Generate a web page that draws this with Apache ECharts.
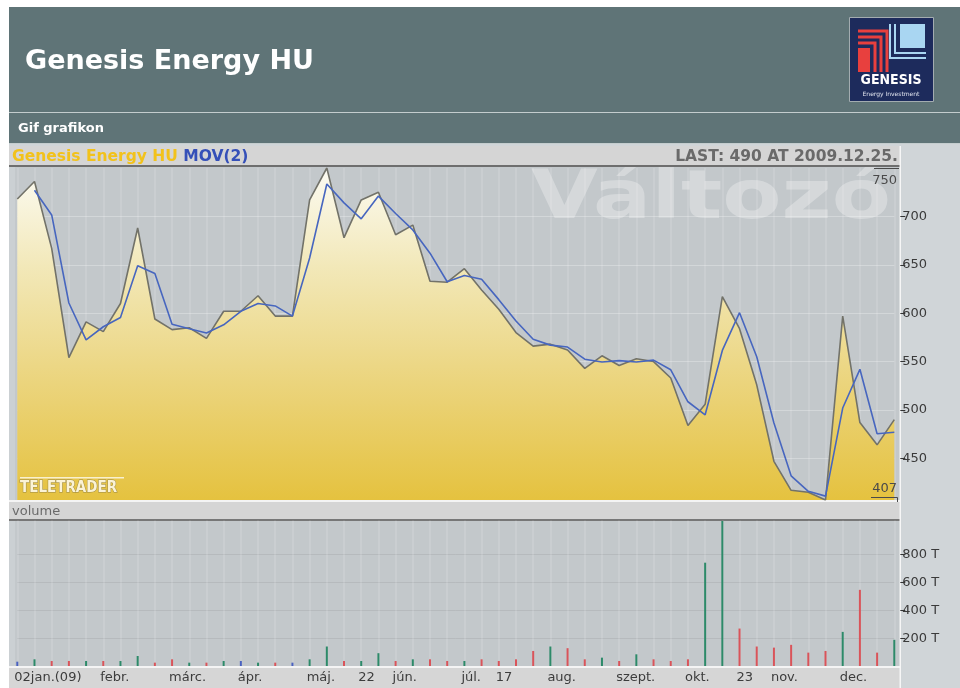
<!DOCTYPE html>
<html>
<head>
<meta charset="utf-8">
<script src="https://cdn.jsdelivr.net/npm/echarts@6/dist/echarts.min.js"></script>
<style>
html,body{margin:0;padding:0;background:#ffffff;}
#chart{width:960px;height:688px;}
</style>
</head>
<body>
<div id="chart"></div>
<script>
// ---- data (weekly, 2009) ----
const dates = [
 '2009.01.02','2009.01.09','2009.01.16','2009.01.23','2009.01.30',
 '2009.02.06','2009.02.13','2009.02.20','2009.02.27',
 '2009.03.06','2009.03.13','2009.03.20','2009.03.27',
 '2009.04.03','2009.04.10','2009.04.17','2009.04.24',
 '2009.05.01','2009.05.08','2009.05.15','2009.05.22','2009.05.29',
 '2009.06.05','2009.06.12','2009.06.19','2009.06.26',
 '2009.07.03','2009.07.10','2009.07.17','2009.07.24','2009.07.31',
 '2009.08.07','2009.08.14','2009.08.21','2009.08.28',
 '2009.09.04','2009.09.11','2009.09.18','2009.09.25',
 '2009.10.02','2009.10.09','2009.10.16','2009.10.23','2009.10.30',
 '2009.11.06','2009.11.13','2009.11.20','2009.11.27',
 '2009.12.04','2009.12.11','2009.12.18','2009.12.25'
];
const price = [718,736,667,554,591,581,610,688,594,583,
               585,574,602,602,618,597,597,717,750,678,
               717,725,681,691,633,632,646,624,604,580,
               566,568,562,543,556,546,553,550,533,484,
               506,617,584,526,447,417,415,407,597,487,
               464,490];
const mov2 = [null,727,701.5,610.5,572.5,586,595.5,649,641,588.5,
              584,579.5,588,602,610,607.5,597,657,733.5,714,
              697.5,721,703,686,662,632.5,639,635,614,592,
              573,567,565,552.5,549.5,551,549.5,551.5,541.5,508.5,
              495,561.5,600.5,555,486.5,432,416,411,502,542,
              475.5,477];
const volume = [31,48,36,36,36,36,36,72,24,48,
                24,24,36,36,24,24,24,48,140,36,
                36,92,36,48,48,36,36,48,36,48,
                108,140,128,48,60,36,84,48,36,48,
                742,1042,269,140,132,152,96,108,245,547,
                96,188];
const direction = ['flat','up','down','down','up','down','up','up','down','down',
                   'up','down','up','flat','up','down','flat','up','up','down',
                   'up','up','down','up','down','down','up','down','down','down',
                   'down','up','down','down','up','down','up','down','down','down',
                   'up','up','down','down','down','down','down','down','up','down',
                   'down','up'];
const tickIndex = [0,5,9,13,17,20,22,26,28,31,35,39,42,44,48];
const tickText = ['02jan.(09)','febr.','márc.','ápr.','máj.','22','jún.','júl.','17','aug.','szept.','okt.','23','nov.','dec.'];
const priceTicks = [450,500,550,600,650,700];
const volumeTicks = [200,400,600,800];

const dirColor = {up:'#2d8a69', down:'#d9545a', flat:'#4a62c0'};
const FONT = '"DejaVu Sans", Verdana, sans-serif';
const NARROW = '"DejaVu Sans Condensed", "Liberation Sans Narrow", "DejaVu Sans", sans-serif';

const volData = volume.map((v, i) => ({value: v, itemStyle: {color: dirColor[direction[i]]}}));
const lastText = 'LAST: ' + price[price.length - 1] + ' AT ' + dates[dates.length - 1] + '.';

const chart = echarts.init(document.getElementById('chart'), null, {renderer: 'canvas'});

const HEAD = '#5f7477';
const PLOTBG = '#c3c8cb';
const BARBG = '#d5d5d5';
const SIDE = '#d0d5d8';

const graphics = [
  // header
  {type:'rect', z:-5, shape:{x:9, y:7, width:951, height:105}, style:{fill:HEAD}},
  {type:'rect', z:-5, shape:{x:9, y:112, width:951, height:1}, style:{fill:'#c4cdce'}},
  {type:'rect', z:-5, shape:{x:9, y:113, width:951, height:31}, style:{fill:HEAD}},
  {type:'rect', z:-5, shape:{x:9, y:143, width:951, height:1}, style:{fill:'#c4cdce'}},
  {type:'text', z:5, x:25, y:62, style:{text:'Genesis Energy HU', fill:'#ffffff', font:'bold 27px ' + FONT, verticalAlign:'middle'}},
  {type:'text', z:5, x:18, y:129, style:{text:'Gif grafikon', fill:'#ffffff', font:'bold 13px ' + FONT, verticalAlign:'middle'}},
  // logo
  {type:'rect', z:5, shape:{x:849.5, y:17.5, width:84, height:84}, style:{fill:'#1d2b5c', stroke:'#a3acb0', lineWidth:1}},
  {type:'polyline', z:6, shape:{points:[[858,31],[887,31],[887,72]]}, style:{stroke:'#e8403e', lineWidth:3, fill:null}},
  {type:'polyline', z:6, shape:{points:[[858,37],[881,37],[881,72]]}, style:{stroke:'#e8403e', lineWidth:3, fill:null}},
  {type:'polyline', z:6, shape:{points:[[858,43],[875,43],[875,72]]}, style:{stroke:'#e8403e', lineWidth:3, fill:null}},
  {type:'rect', z:6, shape:{x:858, y:48, width:12, height:24}, style:{fill:'#e8403e'}},
  {type:'rect', z:6, shape:{x:900, y:24, width:25, height:24}, style:{fill:'#a9d6f2'}},
  {type:'polyline', z:6, shape:{points:[[895,24],[895,53],[926,53]]}, style:{stroke:'#a9d6f2', lineWidth:2, fill:null}},
  {type:'polyline', z:6, shape:{points:[[890,24],[890,58],[926,58]]}, style:{stroke:'#a9d6f2', lineWidth:2, fill:null}},
  {type:'text', z:6, x:891, y:80, style:{text:'GENESIS', fill:'#ffffff', font:'bold 14px ' + NARROW, align:'center', verticalAlign:'middle'}},
  {type:'text', z:6, x:891, y:94, style:{text:'Energy Investment', fill:'#e0e4ee', font:'6px ' + FONT, align:'center', verticalAlign:'middle'}},
  // chart panel
  {type:'rect', z:-5, shape:{x:9, y:144, width:951, height:544}, style:{fill:SIDE}},
  {type:'rect', z:-4, shape:{x:9, y:167, width:891, height:334}, style:{fill:PLOTBG}},
  {type:'rect', z:-4, shape:{x:9, y:167, width:6, height:334}, style:{fill:'#cbd0d3'}},
  // watermark (below the legend bar)
  {type:'text', z:-3, x:531, y:200, scaleX:1.27, style:{text:'Változó', fill:'rgba(255,255,255,0.30)', font:'bold 68px ' + FONT, verticalAlign:'middle'}},
  {type:'rect', z:-2, shape:{x:9, y:146, width:891, height:20}, style:{fill:BARBG}},
  {type:'rect', z:-2, shape:{x:9, y:165, width:891, height:2}, style:{fill:'#6e6e6e'}},
  {type:'rect', z:-4, shape:{x:9, y:500, width:891, height:2}, style:{fill:'#f4f4f4'}},
  {type:'rect', z:-4, shape:{x:9, y:502, width:891, height:18}, style:{fill:BARBG}},
  {type:'rect', z:-4, shape:{x:9, y:519, width:891, height:2}, style:{fill:'#777777'}},
  {type:'rect', z:-4, shape:{x:9, y:521, width:891, height:145}, style:{fill:PLOTBG}},
  {type:'rect', z:-4, shape:{x:9, y:521, width:6, height:145}, style:{fill:'#cbd0d3'}},
  {type:'rect', z:-4, shape:{x:9, y:666, width:891, height:2}, style:{fill:'#f4f4f4'}},
  {type:'rect', z:-4, shape:{x:9, y:668, width:891, height:20}, style:{fill:'#d6d6d6'}},
  {type:'rect', z:-2, shape:{x:899.5, y:146, width:1.5, height:542}, style:{fill:'#f6f6f6'}},
  // legend texts
  {type:'text', z:5, x:12, y:157, style:{
    text:'{a|Genesis Energy HU} {b|MOV(2)}', verticalAlign:'middle', font:'bold 15.5px ' + FONT,
    rich:{a:{fill:'#f2c21b', font:'bold 15.5px ' + FONT}, b:{fill:'#3550b8', font:'bold 15.5px ' + FONT}}}},
  {type:'text', z:5, x:898, y:157, style:{text:lastText, fill:'#6a6a6a', font:'bold 15.5px ' + FONT, align:'right', verticalAlign:'middle'}},
  {type:'text', z:5, x:12, y:512, style:{text:'volume', fill:'#6a6a6a', font:'13px ' + FONT, verticalAlign:'middle'}},
  // teletrader
  {type:'rect', z:10, shape:{x:20, y:477, width:104, height:1.5}, style:{fill:'#f8f0d0'}},
  {type:'text', z:10, x:20, y:488, style:{text:'TELETRADER', fill:'#fbf3d6', stroke:'#9c8a46', lineWidth:1, font:'bold 15px ' + NARROW, verticalAlign:'middle'}},
  // max/min labels
  {type:'polyline', z:10, shape:{points:[[874,168.5],[899,168.5]]}, style:{stroke:'#4a4a4a', lineWidth:1, fill:null}},
  {type:'text', z:10, x:897, y:181, style:{text:'750', fill:'#4a4a4a', font:'13px ' + FONT, align:'right', verticalAlign:'middle'}},
  {type:'text', z:10, x:897, y:489, style:{text:'407', fill:'#4a4a4a', font:'13px ' + FONT, align:'right', verticalAlign:'middle'}},
  {type:'polyline', z:10, shape:{points:[[871,497.5],[897.5,497.5],[897.5,502]]}, style:{stroke:'#4a4a4a', lineWidth:1, fill:null}}
];

const option = {
  animation: false,
  backgroundColor: '#ffffff',
  textStyle: {fontFamily: FONT},
  graphic: graphics,
  grid: [
    {left: 17.3, top: 168, width: 877, height: 332},
    {left: 17.3, top: 520.5, width: 877, height: 145.5}
  ],
  xAxis: [
    {gridIndex:0, type:'category', data:dates, boundaryGap:false,
     axisLine:{show:false}, axisTick:{show:false}, axisLabel:{show:false},
     splitLine:{show:true, interval:0, lineStyle:{color:'rgba(255,255,255,0.12)', width:2}}},
    {gridIndex:1, type:'category', data:dates, boundaryGap:false,
     axisLine:{show:false}, axisTick:{show:false},
     axisLabel:{show:true, interval:(i) => tickIndex.indexOf(i) >= 0,
                formatter:(v, i) => { const k = tickIndex.indexOf(i); return k >= 0 ? tickText[k] : ''; },
                align:'left', margin:5, padding:[0,0,0,-3], color:'#3c3c3c', fontSize:13, fontFamily:FONT, hideOverlap:false},
     splitLine:{show:true, interval:0, lineStyle:{color:'rgba(255,255,255,0.12)', width:2}}}
  ],
  yAxis: [
    {gridIndex:0, type:'value', position:'right', min:407, max:750, splitNumber:7, offset:6, scale:true,
     axisLine:{show:false},
     axisTick:{show:true, length:5, customValues:priceTicks, lineStyle:{color:'#333'}},
     axisLabel:{customValues:priceTicks, margin:2, color:'#3a3a3a', fontSize:13, fontFamily:FONT},
     splitLine:{show:true, lineStyle:{color:'rgba(255,255,255,0.28)', width:1}}},
    {gridIndex:1, type:'value', position:'right', min:0, max:1045, interval:200, offset:6,
     axisLine:{show:false},
     axisTick:{show:true, length:5, customValues:volumeTicks, lineStyle:{color:'#333'}},
     axisLabel:{customValues:volumeTicks, formatter:(v) => v + ' T', margin:2, color:'#3a3a3a', fontSize:13, fontFamily:FONT},
     splitLine:{show:true, lineStyle:{color:'#b6babd', width:1}}}
  ],
  series: [
    {name:'Genesis Energy HU', type:'line', xAxisIndex:0, yAxisIndex:0, data:price, symbol:'none', z:3,
     lineStyle:{color:'#727269', width:1.6},
     areaStyle:{origin:'start', opacity:1, color:new echarts.graphic.LinearGradient(0,0,0,1,[
       {offset:0, color:'#fcfbf3'}, {offset:0.3, color:'#f2e8b8'},
       {offset:0.65, color:'#ebd47c'}, {offset:1, color:'#e5c23f'}])}},
    {name:'MOV(2)', type:'line', xAxisIndex:0, yAxisIndex:0, data:mov2, symbol:'none', z:4,
     lineStyle:{color:'#4766bf', width:1.6}},
    {name:'volume', type:'bar', xAxisIndex:1, yAxisIndex:1, data:volData, barWidth:2, z:3}
  ]
};
chart.setOption(option);
</script>
</body>
</html>
